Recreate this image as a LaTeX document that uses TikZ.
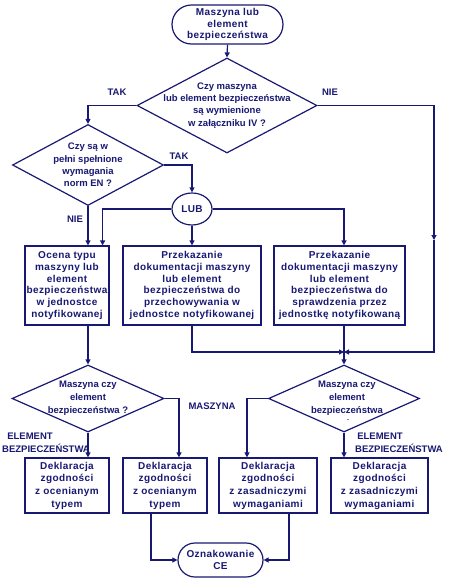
\documentclass[tikz,border=0pt]{standalone}
\usepackage{fontspec}
\setmainfont{Liberation Sans}[LetterSpace=4]
\newfontfamily\dfont{Liberation Sans}
\usetikzlibrary{shapes.geometric,shapes.misc,arrows.meta,calc}
\definecolor{navy}{RGB}{25,25,115}
\begin{document}
\begin{tikzpicture}[x=1pt,y=-1pt,
  every node/.style={text=navy},
  boxtxt/.style={font=\bfseries\fontsize{10}{11.7}\selectfont},
  box/.style={draw=navy, rectangle, line width=1.2pt, align=center, inner sep=0pt, boxtxt},
  term/.style={draw=navy, rounded rectangle, line width=1.2pt, align=center, inner sep=0pt, boxtxt},
  dia/.style={draw=navy, diamond, line width=1.2pt, inner sep=0pt},
  dtxt/.style={align=center, text=navy, font=\dfont\bfseries\fontsize{9.5}{12.2}\selectfont},
  lbl/.style={font=\dfont\bfseries\fontsize{9.5}{11}\selectfont, inner sep=0pt},
  con/.style={draw=navy, line width=1.2pt},
  arr/.style={con, -{Triangle[length=5pt,width=5pt]}}
]
\useasboundingbox[fill=white] (0,0) rectangle (450,584);

% terminals
\node[term, minimum width=111pt, minimum height=39pt] (start) at (227.5,24.5)
  {Maszyna lub\\element\\bezpieczeństwa};
\node[term, minimum width=85pt, minimum height=34pt, font=\bfseries\fontsize{10}{12.5}\selectfont] (end) at (220.5,560)
  {Oznakowanie\\CE};

% decisions
\node[dia, minimum width=180pt, minimum height=95pt,
  label={[dtxt]center:{Czy maszyna\\lub element bezpieczeństwa\\są wymienione\\w załączniku IV ?}}] (d1) at (227,105.5) {};
\node[dia, minimum width=151pt, minimum height=81pt,
  label={[dtxt]center:{Czy są w\\pełni spełnione\\wymagania\\norm EN ?}}] (d2) at (88,165) {};
\node[dia, minimum width=152pt, minimum height=67pt,
  label={[dtxt, font=\dfont\bfseries\fontsize{9.5}{13}\selectfont]center:{Maszyna czy\\element\\bezpieczeństwa ?}}] (d3) at (88,398.5) {};
\node[dia, minimum width=151pt, minimum height=67pt,
  label={[dtxt, font=\dfont\bfseries\fontsize{9.5}{13}\selectfont, xshift=3pt]center:{Maszyna czy\\element\\bezpieczeństwa}}] (d4) at (344,398.5) {};
\node[lbl, font=\dfont\bfseries\fontsize{6}{7}\selectfont] (d4dash) at (348,420.5) {-};

% LUB
\node[draw=navy, ellipse, line width=1.2pt, minimum width=40pt, minimum height=32pt, inner sep=0pt, boxtxt] (lub) at (192,209) {LUB};

% boxes
\node[box, minimum width=84pt, minimum height=79pt] (b1) at (67,285.5)
  {Ocena typu\\maszyny lub\\element\\bezpieczeństwa\\w jednostce\\notyfikowanej};
\node[box, minimum width=138pt, minimum height=79pt] (b2) at (192,285.5)
  {Przekazanie\\dokumentacji maszyny\\lub element\\bezpieczeństwa do\\przechowywania w\\jednostce notyfikowanej};
\node[box, minimum width=131pt, minimum height=79pt] (b3) at (339.5,285.5)
  {Przekazanie\\dokumentacji maszyny\\lub element\\bezpieczeństwa do\\sprawdzenia przez\\jednostkę notyfikowaną};

\node[box, minimum width=84pt, minimum height=55pt, font=\bfseries\fontsize{10}{12.7}\selectfont] (b4) at (67,485.5)
  {Deklaracja\\zgodności\\z ocenianym\\typem};
\node[box, minimum width=84pt, minimum height=55pt, font=\bfseries\fontsize{10}{12.7}\selectfont] (b5) at (165,485.5)
  {Deklaracja\\zgodności\\z ocenianym\\typem};
\node[box, minimum width=98pt, minimum height=55pt, font=\bfseries\fontsize{10}{12.7}\selectfont] (b6) at (268,485.5)
  {Deklaracja\\zgodności\\z zasadniczymi\\wymaganiami};
\node[box, minimum width=97pt, minimum height=55pt, font=\bfseries\fontsize{10}{12.7}\selectfont] (b7) at (379.5,485.5)
  {Deklaracja\\zgodności\\z zasadniczymi\\wymaganiami};

% labels
\node[lbl] (ltak1) at (117,92) {TAK};
\node[lbl] (lnie1) at (330,92) {NIE};
\node[lbl] (ltak2) at (179,156) {TAK};
\node[lbl] (lnie2) at (75,219) {NIE};
\node[lbl] (lmasz) at (212,406) {MASZYNA};
\node[lbl] (lel1) at (30,436) {ELEMENT};
\node[lbl] (lbz1) at (46,448) {BEZPIECZEŃSTWA};
\node[lbl] (lel2) at (380,436) {ELEMENT};
\node[lbl] (lbz2) at (399,448) {BEZPIECZEŃSTWA};

% helper coordinates
\coordinate (nie) at (434,240);
\coordinate (j) at (344,352);

% connectors
\draw[arr] (start.south) -- (d1.north);
\draw[arr] (d1.west) -| (d2.north);
\draw[arr] (d1.east) -| (nie);
\draw[arr] (nie) |- (j);
\draw[arr] (d2.east) -| (lub.north);
\draw[arr] (d2.south) -- (d2.south |- b1.north);
\draw[arr] (lub.west) -| ($(b1.north east)+(-7,0)$);
\draw[arr] (lub.south) -- (b2.north);
\draw[arr] (lub.east) -| (b3.north -| j);
\draw[arr] (b1.south -| d3.north) -- (d3.north);
\draw[arr] (b2.south) |- (j);
\draw[arr] (b3.south -| j) -- (d4.north);
\draw[arr] (d3.east) -| ($(b5.north)+(14,0)$);
\draw[arr] (d3.south) -- (d3.south |- b4.north);
\draw[arr] (d4.west) -| ($(b6.north)+(-21,0)$);
\draw[arr] (d4.south) -- (d4.south |- b7.north);
\draw[arr] ($(b5.south)+(-14,0)$) |- (end.west);
\draw[arr] ($(b6.south)+(21,0)$) |- (end.east);
\end{tikzpicture}
\end{document}
